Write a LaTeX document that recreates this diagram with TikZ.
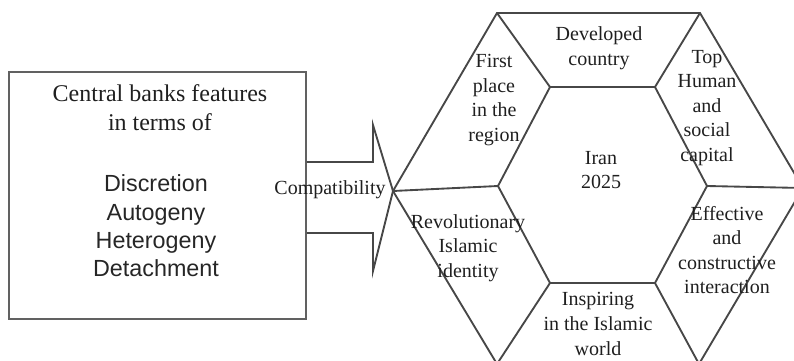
\documentclass[tikz,border=0pt]{standalone}
\usepackage{fontspec}
\setmainfont{Liberation Serif}
\setsansfont{Liberation Sans}
\begin{document}
\begin{tikzpicture}[x=0.75pt,y=-0.75pt,
  hexline/.style={draw=black!72, line width=1.4pt, line join=miter},
  boxline/.style={draw=black!62, line width=1.4pt},
  hextext/.style={font=\fontsize{15}{18.4}\selectfont, align=center, inner sep=0pt, text=black!88},
  headtext/.style={font=\fontsize{18}{21.75}\selectfont, align=center, inner sep=0pt, text=black!88},
  listtext/.style={font=\sffamily\fontsize{17.5}{21.2}\selectfont, align=center, inner sep=0pt, text=black!85}]
\useasboundingbox (0,0) rectangle (794,361);
\clip (0,0) rectangle (794,361);

% left box
\node[boxline, minimum width=222.75pt, minimum height=185.25pt, inner sep=0pt] (box) at (157.5,195.5) {};
\node[headtext] (head) at (160,108) {Central banks features\\in terms of};
\node[listtext] (list) at (156,226) {Discretion\\Autogeny\\Heterogeny\\Detachment};

% outer hexagon corners
\coordinate (oL)  at (393,191);
\coordinate (oTL) at (497,13);
\coordinate (oTR) at (700,13);
\coordinate (oR)  at (803,188);
\coordinate (oBR) at (699,364);
\coordinate (oBL) at (497,364);
% inner hexagon corners
\coordinate (iL)  at (498,186);
\coordinate (iTL) at (550,87);
\coordinate (iTR) at (655,87);
\coordinate (iR)  at (707,186);
\coordinate (iBR) at (655,283);
\coordinate (iBL) at (550,283);

% arrow
\coordinate (aS1) at (box.east |- 0,162);
\coordinate (aS2) at (373,162);
\coordinate (aH1) at (373,125);
\coordinate (aH2) at (373,271);
\coordinate (aS3) at (373,233);
\coordinate (aS4) at (box.east |- 0,233);
\draw[hexline] (aS1) -- (aS2) -- (aH1) -- (oL) -- (aH2) -- (aS3) -- (aS4);

% hexagons
\draw[hexline] (oL) -- (oTL) -- (oTR) -- (oR) -- (oBR) -- (oBL) -- cycle;
\draw[hexline] (iL) -- (iTL) -- (iTR) -- (iR) -- (iBR) -- (iBL) -- cycle;
\draw[hexline] (oL) -- (iL);
\draw[hexline] (oTL) -- (iTL);
\draw[hexline] (oTR) -- (iTR);
\draw[hexline] (oR) -- (iR);
\draw[hexline] (oBR) -- (iBR);
\draw[hexline] (oBL) -- (iBL);

% texts
\node[hextext] (compat) at (330,190) {Compatibility};
\node[hextext] (dev) at (599,48) {Developed\\country};
\node[hextext] (first) at (494,100) {First\\place\\in the\\region};
\node[hextext] (top) at (707,108) {Top\\Human\\and\\social\\capital};
\node[hextext] (iran) at (601,170) {Iran\\2025};
\node[hextext] (rev) at (468,248) {Revolutionary\\Islamic\\identity};
\node[hextext] (eff) at (727,250) {Effective\\and\\constructive\\interaction};
\node[hextext] (insp) at (598,324) {Inspiring\\in the Islamic\\world};
\end{tikzpicture}
\end{document}
